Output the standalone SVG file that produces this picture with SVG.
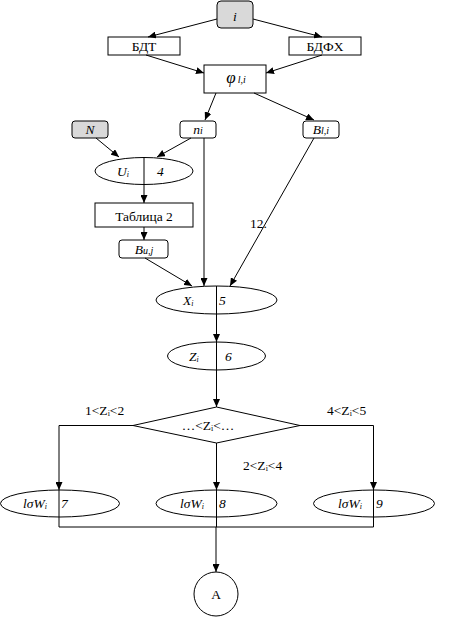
<svg xmlns="http://www.w3.org/2000/svg" width="459" height="627" viewBox="0 0 459 627">
<style>
.box{fill:#ffffff;stroke:#000;stroke-width:1}
.gray{fill:#d9d9d9;stroke:#000;stroke-width:1}
.ell{fill:#ffffff;stroke:#000;stroke-width:1}
text{font-family:'Liberation Serif','DejaVu Serif',serif;font-size:13.5px;fill:#000}
.it{font-style:italic}
.c line,.c polyline{stroke:#000;stroke-width:1;fill:none}
.a{marker-end:url(#ah)}
</style>
<defs>
<marker id="ah" markerWidth="8" markerHeight="7" refX="8" refY="3.5" orient="auto" markerUnits="userSpaceOnUse">
<path d="M0,0 L8,3.5 L0,7 z" fill="#000"/>
</marker>
</defs>
<rect width="459" height="627" fill="#ffffff"/>
<g font-family="Liberation Serif, DejaVu Serif, serif">
<g id="node-i"><rect class="gray" x="217" y="1" width="36" height="27" rx="4"/><text class="it" x="235" y="21" text-anchor="middle">i</text></g>
<g id="node-bdt"><rect class="box" x="108" y="37" width="72" height="18"/><text x="144" y="51" text-anchor="middle">БДТ</text></g>
<g id="node-bdfh"><rect class="box" x="289" y="37" width="72" height="18"/><text x="325" y="51" text-anchor="middle">БДФХ</text></g>
<g id="node-phi"><rect class="box" x="204" y="65" width="62" height="28"/><text x="236" y="83" text-anchor="middle"><tspan class="it" font-size="17px">φ</tspan><tspan class="it" dx="2" font-size="10px">l,i</tspan></text></g>
<g id="node-N"><rect class="gray" x="72" y="121" width="36" height="17" rx="3"/><text class="it" x="90" y="134" text-anchor="middle">N</text></g>
<g id="node-n"><rect class="box" x="180" y="121" width="36" height="17" rx="3"/><text class="it" x="198" y="134" text-anchor="middle">n<tspan font-size="10px">i</tspan></text></g>
<g id="node-B"><rect class="box" x="303" y="121" width="36" height="17" rx="3"/><text class="it" x="321" y="134" text-anchor="middle">B<tspan font-size="10px">l,i</tspan></text></g>
<g id="node-U"><ellipse class="ell" cx="144" cy="171" rx="49" ry="13.5"/><text class="it" x="117" y="176">U<tspan font-size="8px" dy="1">i</tspan></text><text class="it" x="157" y="176">4</text></g>
<g id="node-table"><rect class="box" x="95" y="203" width="98" height="24"/><text x="144" y="221" text-anchor="middle">Таблица 2</text></g>
<g id="node-Bu"><rect class="box" x="119" y="240" width="49" height="18" rx="3"/><text class="it" x="144" y="254" text-anchor="middle">B<tspan font-size="10px">u,j</tspan></text></g>
<g id="node-X"><ellipse class="ell" cx="216.5" cy="300" rx="60.5" ry="14"/><text class="it" x="183" y="305">X<tspan font-size="8px" dy="1">i</tspan></text><text class="it" x="219" y="305">5</text></g>
<g id="node-Z"><ellipse class="ell" cx="216.5" cy="356" rx="49" ry="14"/><text class="it" x="189" y="361">Z<tspan font-size="8px" dy="1">i</tspan></text><text class="it" x="225" y="361">6</text></g>
<g id="node-diamond"><polygon class="box" points="216.5,407 300,425.5 216.5,443 133,425.5"/><text x="208" y="430" text-anchor="middle">…&lt;Z<tspan font-size="8px" dy="1">i</tspan><tspan dy="-1">&lt;…</tspan></text></g>
<g id="node-w7"><ellipse class="ell" cx="60" cy="503.5" rx="59.5" ry="13.5"/><text class="it" x="23" y="508">lσW<tspan font-size="8px" dy="1">i</tspan></text><text class="it" x="61" y="508">7</text></g>
<g id="node-w8"><ellipse class="ell" cx="216.5" cy="503.5" rx="60.5" ry="13.5"/><text class="it" x="180" y="508">lσW<tspan font-size="8px" dy="1">i</tspan></text><text class="it" x="219" y="508">8</text></g>
<g id="node-w9"><ellipse class="ell" cx="374" cy="503.5" rx="60.5" ry="13.5"/><text class="it" x="338" y="508">lσW<tspan font-size="8px" dy="1">i</tspan></text><text class="it" x="376" y="508">9</text></g>
<g id="node-A"><circle class="ell" cx="216" cy="594" r="22"/><text x="216" y="599" text-anchor="middle">A</text></g>
</g>
<g id="connectors" class="c">
<line class="a" x1="217" y1="19" x2="148" y2="37"/>
<line class="a" x1="253" y1="19" x2="322" y2="37"/>
<line class="a" x1="146" y1="55" x2="204" y2="73"/>
<line class="a" x1="322" y1="55" x2="266" y2="73"/>
<line class="a" x1="216" y1="93" x2="205" y2="120"/>
<line class="a" x1="254" y1="93" x2="314" y2="120"/>
<line class="a" x1="96" y1="138" x2="119" y2="157"/>
<line class="a" x1="191" y1="138" x2="157" y2="157"/>
<line class="a" x1="144" y1="157.5" x2="144" y2="203"/>
<line class="a" x1="144" y1="227" x2="144" y2="240"/>
<line class="a" x1="145" y1="258" x2="192" y2="286"/>
<line class="a" x1="204" y1="138" x2="204" y2="286"/>
<line class="a" x1="314" y1="138" x2="230" y2="286"/>
<line class="a" x1="216.5" y1="286" x2="216.5" y2="342"/>
<line class="a" x1="216.5" y1="342" x2="216.5" y2="407"/>
<polyline class="a" points="133,425.5 59,425.5 59,490"/>
<line class="a" x1="216.5" y1="443" x2="216.5" y2="490"/>
<polyline class="a" points="300,425.5 373.5,425.5 373.5,490"/>
<polyline points="59,490 59,527 373.5,527 373.5,490"/>
<line x1="216.5" y1="490" x2="216.5" y2="527"/>
<line class="a" x1="216" y1="527" x2="216" y2="572"/>
</g>
<g id="labels" font-family="Liberation Serif, DejaVu Serif, serif">
<text x="250" y="228">12.</text>
<text x="85" y="415">1&lt;Z<tspan font-size="8px" dy="1">i</tspan><tspan dy="-1">&lt;2</tspan></text>
<text x="327" y="415">4&lt;Z<tspan font-size="8px" dy="1">i</tspan><tspan dy="-1">&lt;5</tspan></text>
<text x="243" y="470">2&lt;Z<tspan font-size="8px" dy="1">i</tspan><tspan dy="-1">&lt;4</tspan></text>
</g>
</svg>
